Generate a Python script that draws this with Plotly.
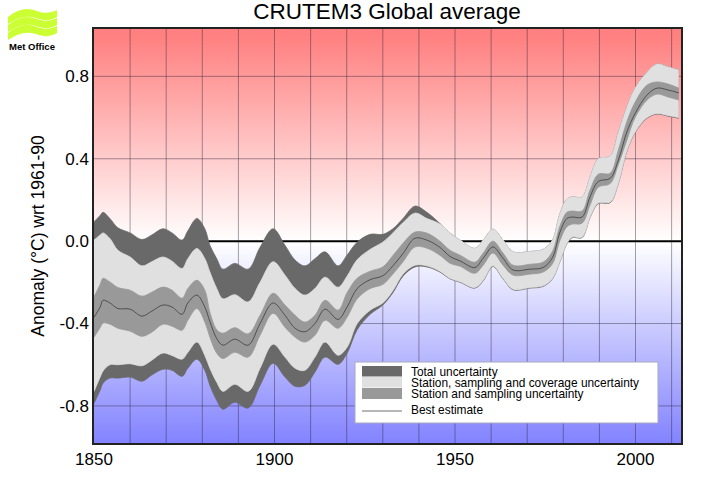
import plotly.graph_objects as go

# Values (anomaly, degC)
YEARS = [1850, 1851.7, 1852.5, 1854.4, 1856.6, 1860, 1863.3, 1866, 1869.1, 1871.6, 1874.4, 1876, 1878.5, 1880.7,
         1882.1, 1884, 1885.7, 1889, 1892.7, 1896, 1899.6, 1902.9, 1905.7, 1908.4, 1911.2, 1914, 1917.6, 1920.1,
         1922.9, 1926.5, 1930, 1932.8, 1935.6, 1938.9, 1942.2, 1945.8, 1948.6, 1951.4, 1955.5, 1957.8, 1960.5,
         1963.3, 1966.1, 1970.8, 1974.4, 1977, 1979, 1981, 1982.5, 1985.2, 1987.4, 1989.7, 1993, 1995.2, 1997.6,
         1999.9, 2003.2, 2006, 2009, 2012]
TOTAL_UPPER = [0.094, 0.125, 0.14, 0.11, 0.065, 0.04, 0.008, 0.03, 0.06, 0.04, 0.005, 0.05, 0.11, 0.06,
               -0.02, -0.085, -0.136, -0.108, -0.136, -0.03, 0.06, -0.02, -0.092, -0.12, -0.085, -0.052, -0.12, -0.068,
               -0.005, 0.033, 0.033, 0.06, 0.11, 0.17, 0.14, 0.086, 0.04, 0.005, -0.035, 0.005, 0.058,
               0.005, -0.052, -0.05, -0.04, 0.005, 0.13, 0.205, 0.215, 0.214, 0.31, 0.40, 0.413, 0.525, 0.65,
               0.743, 0.82, 0.86, 0.846, 0.83]
COVERAGE_UPPER = [0.005, 0.03, 0.04, 0.013, -0.044, -0.077, -0.12, -0.10, -0.077, -0.097, -0.133, -0.085, -0.036, -0.085,
                  -0.15, -0.23, -0.28, -0.26, -0.295, -0.2, -0.10, -0.165, -0.23, -0.262, -0.23, -0.175, -0.224, -0.17,
                  -0.09, -0.04, -0.005, 0.04, 0.09, 0.136, 0.11, 0.083, 0.04, 0.005, -0.035, 0.005, 0.058,
                  0.005, -0.052, -0.05, -0.04, 0.005, 0.13, 0.205, 0.215, 0.214, 0.31, 0.40, 0.413, 0.525, 0.65,
                  0.743, 0.82, 0.86, 0.846, 0.83]
STATION_UPPER = [-0.27, -0.21, -0.18, -0.198, -0.225, -0.238, -0.267, -0.248, -0.223, -0.238, -0.277, -0.23, -0.19, -0.238,
                 -0.345, -0.43, -0.447, -0.42, -0.45, -0.36, -0.253, -0.31, -0.36, -0.393, -0.36, -0.287, -0.335, -0.25,
                 -0.18, -0.146, -0.125, -0.07, -0.01, 0.044, 0.039, 0.0, -0.044, -0.068, -0.102, -0.058, 0.0,
                 -0.058, -0.117, -0.112, -0.102, -0.05, 0.07, 0.14, 0.146, 0.146, 0.248, 0.325, 0.33, 0.44, 0.58,
                 0.675, 0.758, 0.773, 0.763, 0.743]
BEST_ESTIMATE = [-0.37, -0.32, -0.287, -0.30, -0.327, -0.33, -0.364, -0.34, -0.31, -0.32, -0.355, -0.30, -0.262, -0.32,
                 -0.39, -0.473, -0.505, -0.476, -0.505, -0.40, -0.30, -0.36, -0.423, -0.44, -0.40, -0.33, -0.38, -0.32,
                 -0.23, -0.187, -0.168, -0.12, -0.06, 0.014, 0.005, -0.03, -0.074, -0.096, -0.128, -0.083, -0.028,
                 -0.083, -0.14, -0.136, -0.128, -0.08, 0.04, 0.11, 0.117, 0.117, 0.215, 0.29, 0.305, 0.39, 0.53,
                 0.62, 0.71, 0.743, 0.734, 0.72]
STATION_LOWER = [-0.466, -0.42, -0.398, -0.403, -0.423, -0.437, -0.462, -0.442, -0.403, -0.413, -0.432, -0.384, -0.327, -0.393,
                 -0.466, -0.544, -0.57, -0.54, -0.563, -0.457, -0.35, -0.418, -0.466, -0.49, -0.457, -0.384, -0.423, -0.37,
                 -0.28, -0.23, -0.21, -0.16, -0.10, -0.028, -0.034, -0.068, -0.107, -0.122, -0.156, -0.117, -0.058,
                 -0.117, -0.165, -0.16, -0.15, -0.11, 0.0, 0.07, 0.083, 0.087, 0.175, 0.262, 0.28, 0.37, 0.49,
                 0.60, 0.685, 0.714, 0.70, 0.685]
COVERAGE_LOWER = [-0.73, -0.66, -0.63, -0.60, -0.60, -0.595, -0.605, -0.578, -0.543, -0.555, -0.573, -0.54, -0.49, -0.555,
                  -0.617, -0.685, -0.729, -0.695, -0.729, -0.617, -0.50, -0.563, -0.617, -0.627, -0.563, -0.49, -0.554, -0.515,
                  -0.40, -0.335, -0.30, -0.24, -0.16, -0.117, -0.12, -0.146, -0.18, -0.197, -0.225, -0.19, -0.12,
                  -0.18, -0.233, -0.225, -0.217, -0.18, -0.10, -0.01, 0.02, 0.02, 0.117, 0.185, 0.19, 0.28, 0.44,
                  0.53, 0.60, 0.62, 0.61, 0.60]
TOTAL_LOWER = [-0.787, -0.724, -0.69, -0.665, -0.665, -0.66, -0.68, -0.65, -0.622, -0.627, -0.656, -0.617, -0.573, -0.627,
               -0.70, -0.773, -0.816, -0.782, -0.81, -0.70, -0.593, -0.66, -0.705, -0.70, -0.636, -0.563, -0.598, -0.544,
               -0.43, -0.355, -0.31, -0.25, -0.17, -0.125, -0.125, -0.15, -0.183, -0.20, -0.228, -0.193, -0.123,
               -0.183, -0.236, -0.228, -0.22, -0.183, -0.103, -0.013, 0.017, 0.017, 0.114, 0.182, 0.187, 0.277, 0.437,
               0.527, 0.597, 0.617, 0.607, 0.597]

X_TICKS = [1850, 1900, 1950, 2000]
Y_TICKS = [-0.8, -0.4, 0.0, 0.4, 0.8]
GRID_YEARS = [1860, 1870, 1880, 1890, 1900, 1910, 1920, 1930, 1940, 1950, 1960, 1970, 1980, 1990, 2000, 2010]
GRID_VALUES = [-0.8, -0.4, 0.4, 0.8]
X_RANGE = [1850, 2012.6]
Y_RANGE = [-0.98, 1.03]

DARK = "#696969"
LIGHT = "#e0e0e0"
MEDIUM = "#999999"
LINE = "#3c3c3c"
GRID = "rgba(40,30,50,0.42)"
FONT = "Liberation Sans, Arial, sans-serif"

# Plot area in page pixels, used for the logo and the legend box
L, R, T, B = 94, 681, 29, 443
W, H = 708, 504


def px(x):
    return (x - L) / (R - L)


def py(y):
    return (B - y) / (B - T)


def rect(x0, y0, x1, y1, fill, line_color=None, line_width=0):
    return dict(type="rect", xref="paper", yref="paper", x0=px(x0), x1=px(x1), y0=py(y0), y1=py(y1),
                fillcolor=fill, line=dict(color=line_color or fill, width=line_width), layer="above")


def wave(dy):
    # one band of the logo, written in page pixels
    pts = [(8, 17), (18, 9), (27, 7), (37, 11), (45, 14), (50, 13), (57, 10),
           (57, 17), (50, 21), (44, 21), (36, 18), (27, 15), (18, 17), (8, 24)]
    p = [f"{px(x):.5f},{py(y + dy):.5f}" for x, y in pts]
    path = f"M{p[0]} C{p[1]} {p[2]} {p[3]} C{p[4]} {p[5]} {p[6]} L{p[7]} C{p[8]} {p[9]} {p[10]} C{p[11]} {p[12]} {p[13]} Z"
    return dict(type="path", xref="paper", yref="paper", path=path, fillcolor="#ccff33", line_width=0, layer="above")


fig = go.Figure()

# Red/white/blue background
fig.add_trace(go.Heatmap(
    x=X_RANGE, y=[Y_RANGE[0], 0, Y_RANGE[1]],
    z=[[Y_RANGE[0]] * 2, [0, 0], [Y_RANGE[1]] * 2],
    zmin=-1, zmax=1, zsmooth="best", showscale=False, hoverinfo="skip",
    colorscale=[[0, "rgb(128,128,255)"], [0.5, "rgb(255,255,255)"], [1, "rgb(255,128,128)"]],
))

# Grid drawn as traces so it sits on the gradient but under the bands
for year in GRID_YEARS:
    fig.add_trace(go.Scatter(x=[year, year], y=Y_RANGE, mode="lines", hoverinfo="skip",
                             line=dict(color=GRID, width=1)))
for value in GRID_VALUES:
    fig.add_trace(go.Scatter(x=X_RANGE, y=[value, value], mode="lines", hoverinfo="skip",
                             line=dict(color=GRID, width=1)))
fig.add_trace(go.Scatter(x=X_RANGE, y=[0, 0], mode="lines", hoverinfo="skip", line=dict(color="black", width=2)))

# Uncertainty bands, outermost first
for lower, upper, color in [(TOTAL_LOWER, TOTAL_UPPER, DARK),
                            (COVERAGE_LOWER, COVERAGE_UPPER, LIGHT),
                            (STATION_LOWER, STATION_UPPER, MEDIUM)]:
    edge = DARK if color == DARK else color
    fig.add_trace(go.Scatter(x=YEARS, y=lower, mode="lines", line=dict(color=edge, width=0.8, shape="spline", smoothing=1),
                             hoverinfo="skip"))
    fig.add_trace(go.Scatter(x=YEARS, y=upper, mode="lines", line=dict(color=edge, width=0.8, shape="spline", smoothing=1),
                             fill="tonexty", fillcolor=color, hoverinfo="skip"))

fig.add_trace(go.Scatter(x=YEARS, y=BEST_ESTIMATE, mode="lines", name="Best estimate",
                         line=dict(color=LINE, width=0.8, shape="spline", smoothing=1)))

# Legend box and logo
shapes = [
    rect(355, 362, 658, 423, "white", "#a8a8c0", 1),
    rect(362, 366, 402, 376.5, DARK),
    rect(362, 377, 402, 387.5, LIGHT),
    rect(362, 388, 402, 399, MEDIUM),
    dict(type="line", xref="paper", yref="paper", x0=px(362), x1=px(402), y0=py(411), y1=py(411),
         line=dict(color="#707070", width=1), layer="above"),
] + [wave(dy) for dy in (0, 8, 16)]

annotations = [
    dict(text=t, xref="paper", yref="paper", x=px(409), y=py(y), xanchor="left", yanchor="middle", showarrow=False,
         font=dict(family=FONT, size=11.9, color="black"))
    for t, y in [("Total uncertainty", 372), ("Station, sampling and coverage uncertainty", 383),
                 ("Station and sampling uncertainty", 394), ("Best estimate", 410)]
]
annotations.append(dict(text="<b>Met Office</b>", xref="paper", yref="paper", x=px(32), y=py(47), xanchor="center",
                        yanchor="middle", showarrow=False, font=dict(family=FONT, size=9.5, color="black")))

fig.update_layout(
    width=W, height=H,
    margin=dict(l=L, r=W - R, t=T, b=H - B, pad=0),
    paper_bgcolor="white", plot_bgcolor="white",
    showlegend=False,
    font=dict(family=FONT, color="black"),
    title=dict(text="CRUTEM3 Global average", x=387 / W, xanchor="center", y=1 - 11 / H, yanchor="middle",
               font=dict(size=22.5)),
    xaxis=dict(range=X_RANGE, tickvals=X_TICKS, ticks="", showgrid=False, zeroline=False, showline=True,
               linecolor="#222", linewidth=1.5, mirror=True, tickfont=dict(size=17), tickangle=0),
    yaxis=dict(range=Y_RANGE, tickvals=Y_TICKS, ticktext=["-0.8", "-0.4", "0.0", "0.4", "0.8"], ticks="", showgrid=False,
               zeroline=False, showline=True, linecolor="#222", linewidth=1.5, mirror=True, tickfont=dict(size=17),
               title=dict(text="Anomaly (°C) wrt 1961-90", font=dict(size=17.5), standoff=10)),
    shapes=shapes,
    annotations=annotations,
)

# drop the browser's default page margin so the figure starts at the corner
fig.write_html("out.html", config={"displayModeBar": False}, post_script="document.body.style.margin = '0';")
